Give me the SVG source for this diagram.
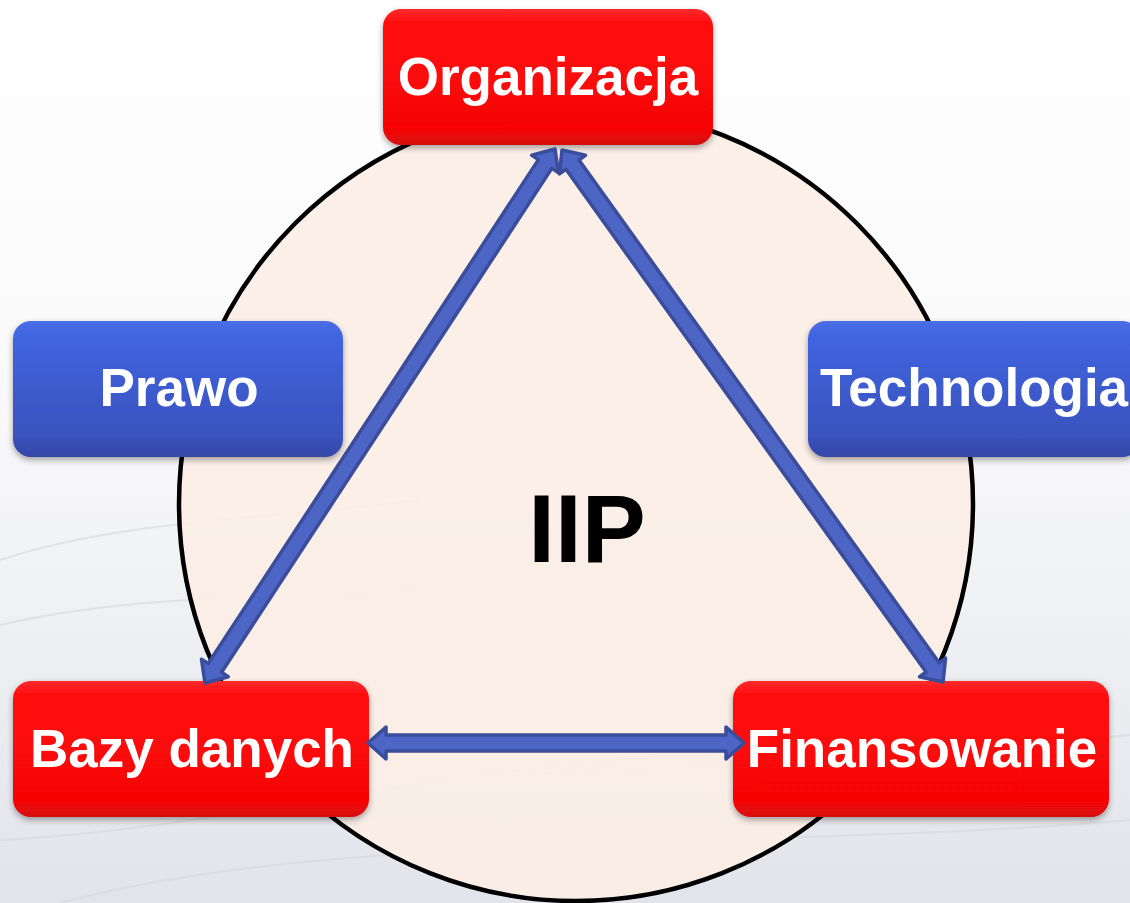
<svg xmlns="http://www.w3.org/2000/svg" width="1130" height="903" viewBox="0 0 1130 903">
  <defs>
    <linearGradient id="bg" x1="0" y1="0" x2="0" y2="1">
      <stop offset="0" stop-color="#ffffff"/>
      <stop offset="0.45" stop-color="#f9f9fa"/>
      <stop offset="1" stop-color="#e2e4ea"/>
    </linearGradient>
    <linearGradient id="red" x1="0" y1="0" x2="0" y2="1">
      <stop offset="0" stop-color="#ff2a2a"/>
      <stop offset="0.12" stop-color="#ff0808"/>
      <stop offset="0.88" stop-color="#f80606"/>
      <stop offset="1" stop-color="#d40808"/>
    </linearGradient>
    <linearGradient id="blue" x1="0" y1="0" x2="0" y2="1">
      <stop offset="0" stop-color="#4a6ee6"/>
      <stop offset="0.12" stop-color="#4064e0"/>
      <stop offset="0.85" stop-color="#3a52bc"/>
      <stop offset="1" stop-color="#3347a6"/>
    </linearGradient>
    <filter id="shadow" x="-10%" y="-10%" width="120%" height="130%">
      <feDropShadow dx="0" dy="3" stdDeviation="3" flood-color="#000" flood-opacity="0.35"/>
    </filter>
  </defs>
  <style>
    .box { filter: url(#shadow); }
    .redbox { fill: url(#red); }
    .bluebox { fill: url(#blue); }
    .label { font-family: "Liberation Sans", Arial, sans-serif; font-weight: bold; font-size: 53px; fill: #ffffff; text-anchor: middle; }
    .arrow { fill: #4d66c6; stroke: #3a4c9c; stroke-width: 3.5; stroke-linejoin: round; }
    .wave { fill: none; stroke: #d6d7dc; stroke-width: 2; opacity: 0.6; }
  </style>

  <g id="background">
    <rect x="0" y="0" width="1130" height="903" fill="url(#bg)"/>
    <path class="wave" d="M0,560 C120,520 260,520 420,500"/>
    <path class="wave" d="M0,625 C150,590 300,600 520,585"/>
    <path class="wave" d="M0,840 C200,830 380,780 620,760 C800,745 980,750 1130,735"/>
    <path class="wave" d="M60,903 C220,860 420,850 700,840 C880,835 1020,830 1130,820"/>
    <path class="wave" d="M380,790 C520,770 640,770 760,765"/>
  </g>

  <g id="circle">
    <circle cx="576" cy="504" r="397" fill="#fbeee5" fill-opacity="0.92" stroke="#000000" stroke-width="4.5"/>
  </g>

  <g id="iip">
    <text x="587" y="562" font-family="Liberation Sans, Arial, sans-serif" font-weight="bold" font-size="96" fill="#000000" text-anchor="middle">IIP</text>
  </g>

  <g id="organizacja" class="box">
    <rect class="redbox" x="383" y="9" width="330" height="136" rx="18"/>
    <text class="label" x="548" y="95">Organizacja</text>
  </g>

  <g id="prawo" class="box">
    <rect class="bluebox" x="13" y="321" width="330" height="136" rx="18"/>
    <text class="label" x="179" y="406">Prawo</text>
  </g>

  <g id="technologia" class="box">
    <rect class="bluebox" x="808" y="321" width="332" height="136" rx="18"/>
    <text class="label" x="974" y="406">Technologia</text>
  </g>

  <g id="bazy-danych" class="box">
    <rect class="redbox" x="13" y="681" width="356" height="136" rx="18"/>
    <text class="label" x="192" y="767">Bazy danych</text>
  </g>

  <g id="finansowanie" class="box">
    <rect class="redbox" x="733" y="681" width="376" height="136" rx="18"/>
    <text class="label" x="922" y="767">Finansowanie</text>
  </g>

  <g id="connectors">
    <polygon class="arrow" transform="translate(368,743)" points="0,0 18,-16 18,-8 358,-8 358,-16 376,0 358,16 358,8 18,8 18,16"/>
    <polygon class="arrow" transform="translate(205,683) rotate(-56.76)" points="0,0 18,-16 18,-8 620.5,-8 620.5,-16 638.5,0 620.5,16 620.5,8 18,8 18,16"/>
    <polygon class="arrow" transform="translate(562,150) rotate(54.39)" points="0,0 18,-16 18,-8 636.4,-8 636.4,-16 654.4,0 636.4,16 636.4,8 18,8 18,16"/>
  </g>
</svg>
